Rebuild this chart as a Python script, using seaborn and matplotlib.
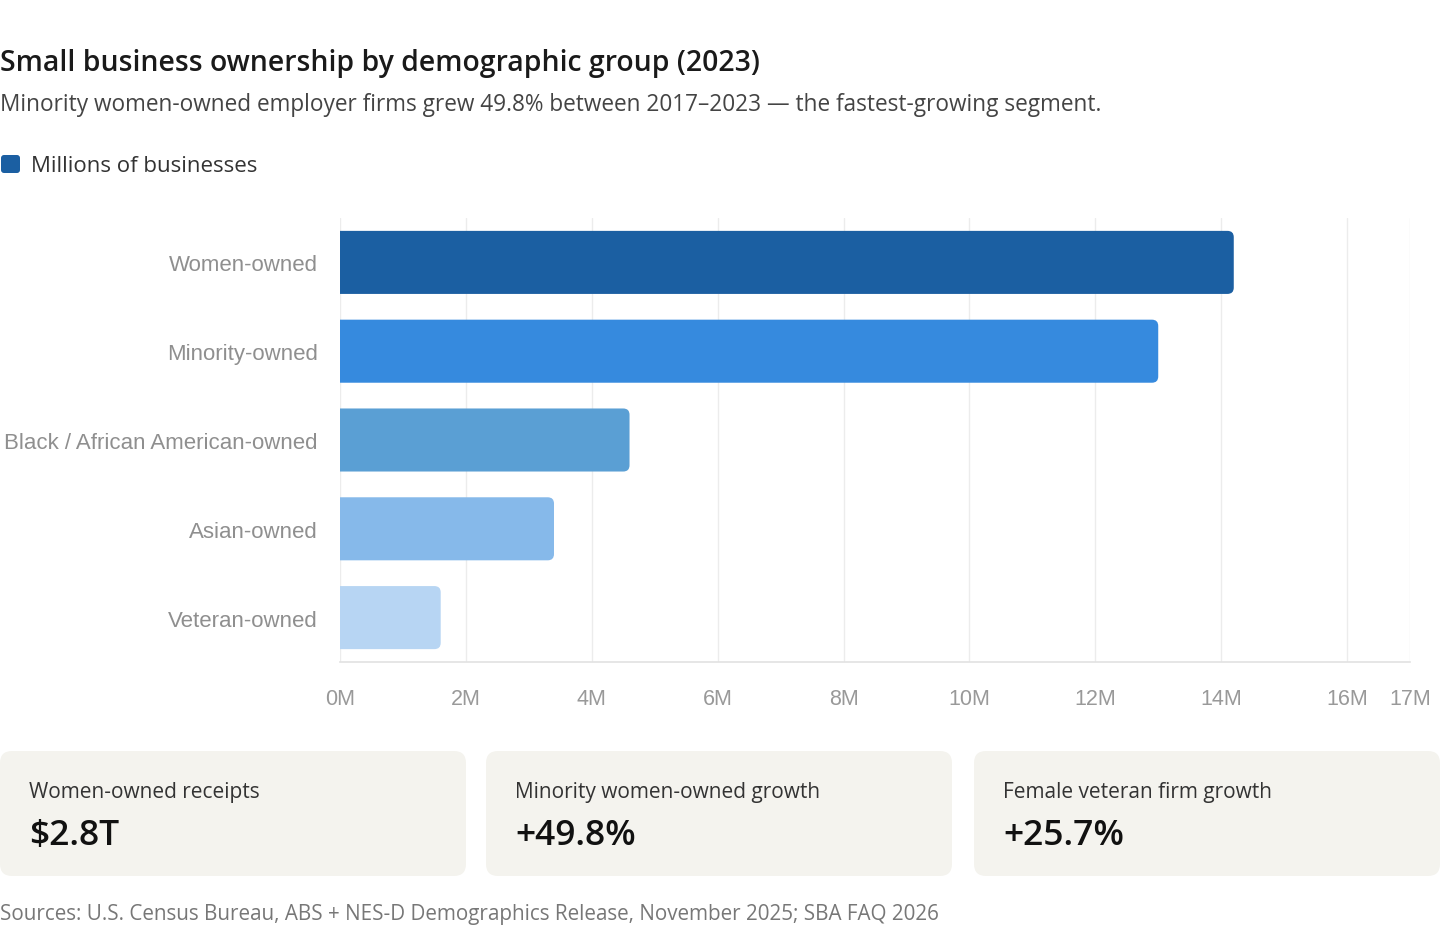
import seaborn as sns
import matplotlib.pyplot as plt
from matplotlib.patches import FancyBboxPatch

# Data
groups = ['Women-owned', 'Minority-owned', 'Black / African American-owned',
          'Asian-owned', 'Veteran-owned']
millions = [14.2, 13.0, 4.6, 3.4, 1.6]
bar_colors = ['#1b5fa2', '#368ade', '#5a9fd4', '#86b9ea', '#b7d5f3']
x_ticks = [0, 2, 4, 6, 8, 10, 12, 14, 16, 17]
x_tick_labels = [f'{t}M' for t in x_ticks]

card_labels = ['Women-owned receipts', 'Minority women-owned growth', 'Female veteran firm growth']
card_values = ['$2.8T', '+49.8%', '+25.7%']

title = 'Small business ownership by demographic group (2023)'
subtitle = ('Minority women-owned employer firms grew 49.8% between 2017\u20132023 '
            '\u2014 the fastest-growing segment.')
legend_label = 'Millions of businesses'
source = 'Sources: U.S. Census Bureau, ABS + NES-D Demographics Release, November 2025; SBA FAQ 2026'

W, H = 1440, 928
sns.set_theme(style='white')
plt.rcParams['font.family'] = ['Open Sans', 'DejaVu Sans']


def fx(px):
    return px / W


def fy(py):
    return 1 - py / H


fig = plt.figure(figsize=(W / 100, H / 100), dpi=100)
fig.patch.set_facecolor('white')

# plot area (pixels: x 340..1410, y 218..662)
ax = fig.add_axes([fx(340), fy(663), fx(1410) - fx(340), fy(219) - fy(663)])
sns.barplot(x=millions, y=groups, hue=groups, palette=bar_colors, legend=False,
            orient='h', width=0.71, saturation=1, ax=ax)
ax.set_xlim(0, 17)
ax.set_ylim(4.5, -0.5)

# swap the plain bars for ones with rounded right ends
px_per_x = 1070 / 17
px_per_y = 444 / 5
for bar in list(ax.patches):
    x0, y0 = bar.get_x(), bar.get_y()
    w, h = bar.get_width(), bar.get_height()
    rounded = FancyBboxPatch((x0 - 0.3, y0), w + 0.3, h,
                             boxstyle='round,pad=0,rounding_size=0.1',
                             mutation_aspect=px_per_x / px_per_y,
                             facecolor=bar.get_facecolor(), edgecolor='none',
                             clip_on=True, zorder=3)
    bar.remove()
    ax.add_patch(rounded)

ax.set_xticks(x_ticks)
ax.set_xticklabels(x_tick_labels)
ax.grid(axis='x', color='#ececec', linewidth=1, zorder=0)
ax.set_axisbelow(True)
for side in ['top', 'right', 'left']:
    ax.spines[side].set_visible(False)
ax.spines['bottom'].set_color('#e2e2e2')
ax.spines['bottom'].set_linewidth(1.2)
ax.tick_params(axis='x', colors='#ececec', length=6, width=1, pad=13,
               labelcolor='#999999', labelsize=15.5)
ax.tick_params(axis='y', length=0, pad=16, labelcolor='#8f8f8f', labelsize=16)
for lab in ax.get_xticklabels() + ax.get_yticklabels():
    lab.set_family('Liberation Sans')
ax.set_xlabel('')
ax.set_ylabel('')

# header texts
fig.text(fx(0), fy(63), title, fontsize=20.4, fontweight='semibold', color='#1a1a1a', va='center')
fig.text(fx(0), fy(105), subtitle, fontsize=16.3, color='#444444', va='center')

# legend chip
fig.patches.append(FancyBboxPatch((fx(1), fy(174)), fx(19), fy(156) - fy(174),
                                  boxstyle=f'round,pad=0,rounding_size={fx(3)}',
                                  mutation_aspect=W / H, transform=fig.transFigure,
                                  facecolor=bar_colors[0], edgecolor='none'))
fig.text(fx(31), fy(167), legend_label, fontsize=16, color='#333333', va='center')

# stat cards
card_left = [0, 486, 974]
card_width = 466
for left, label, value in zip(card_left, card_labels, card_values):
    fig.patches.append(FancyBboxPatch((fx(left), fy(877)), fx(card_width), fy(752) - fy(877),
                                      boxstyle=f'round,pad=0,rounding_size={fx(12)}',
                                      mutation_aspect=W / H, transform=fig.transFigure,
                                      facecolor='#f4f3ee', edgecolor='none'))
    fig.text(fx(left + 29), fy(793), label, fontsize=15, color='#333333', va='center')
    fig.text(fx(left + 29), fy(836), value, fontsize=25.5, fontweight='semibold',
             color='#111111', va='center')

fig.text(fx(0), fy(915), source, fontsize=14.9, color='#777777', va='center')

fig.savefig('out.png', dpi=100, facecolor='white')
